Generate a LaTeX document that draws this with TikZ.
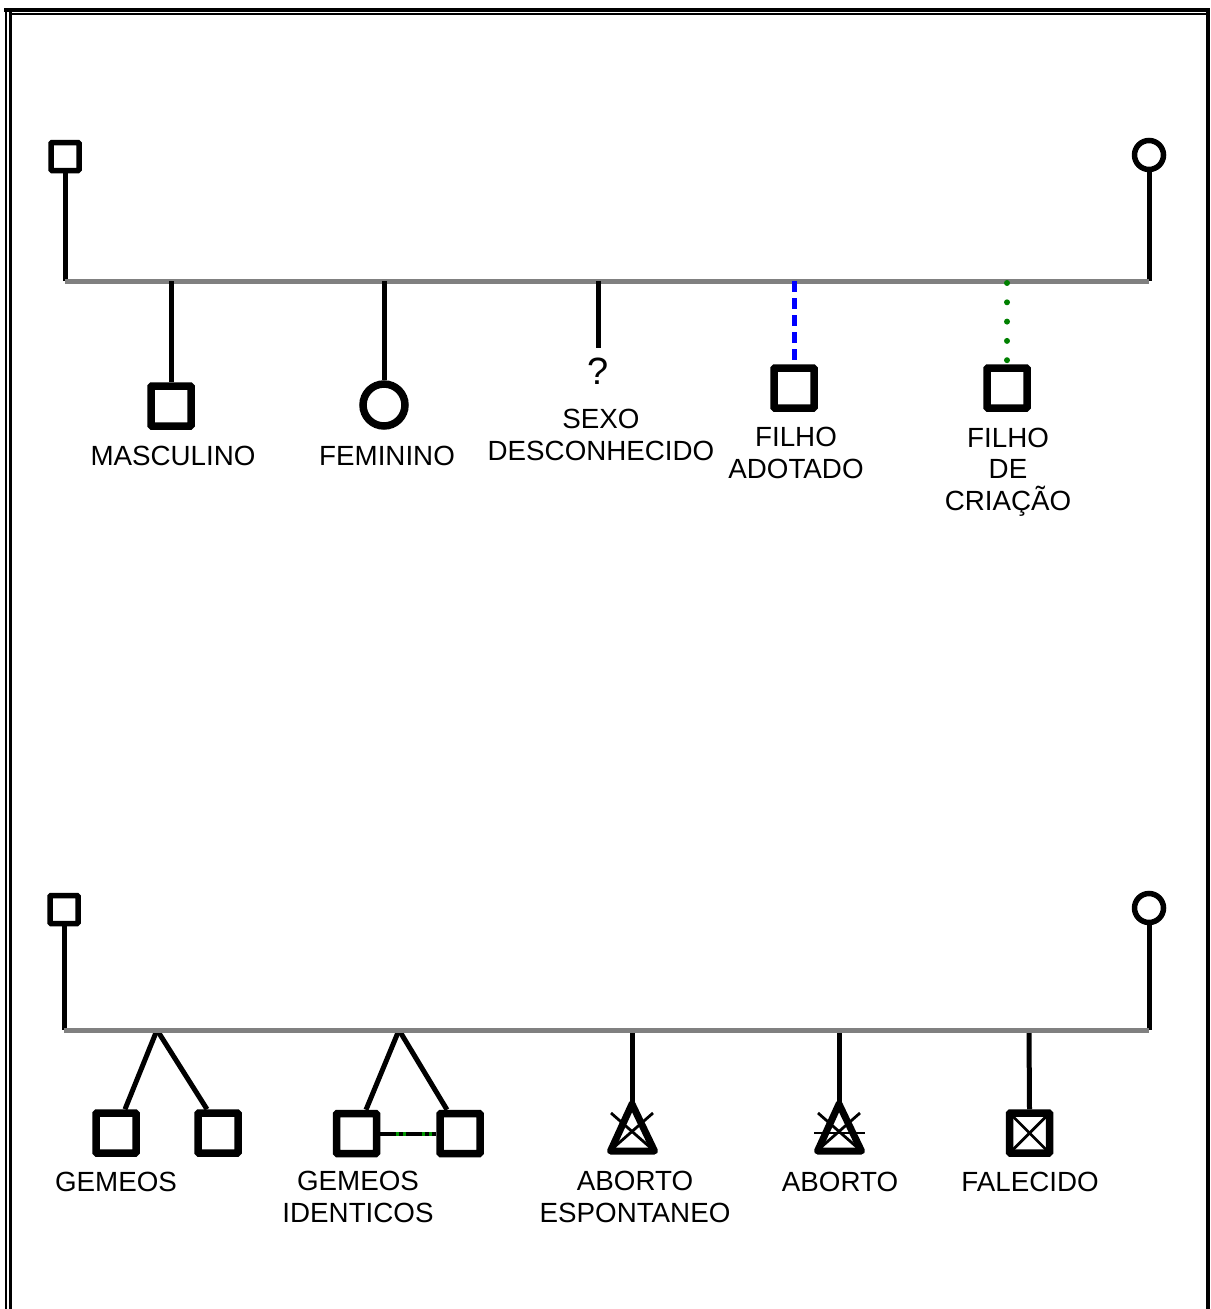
\documentclass[tikz,border=0pt]{standalone}
\usepackage{fontspec}
\setmainfont{Liberation Sans}
\begin{document}
\begin{tikzpicture}[x=1pt,y=-1pt,
  lbl/.style={font=\fontsize{27.75}{31.5}\selectfont, align=center, anchor=base, inner sep=0pt},
  parentsq/.style={draw, line width=5.5pt, rectangle, minimum size=28pt, inner sep=0pt, rounded corners=1pt},
  parentci/.style={draw, line width=5.5pt, circle, minimum size=29pt, inner sep=0pt},
  childsq/.style={draw, line width=7.5pt, rectangle, minimum size=40pt, inner sep=0pt, rounded corners=1pt},
  childci/.style={draw, line width=7.5pt, circle, minimum size=42pt, inner sep=0pt},
  link/.style={line width=5pt},
  famline/.style={line width=5pt, draw={rgb,255:red,128;green,128;blue,128}},
  thinx/.style={line width=2.8pt},
  tri/.style={line width=7pt, line join=round}]
\useasboundingbox (0,0) rectangle (1210,1309);

% page frame
\draw[line width=2pt] (6,8) -- (6,1309);
\draw[line width=3.5pt] (10.5,12) -- (10.5,1309);
\draw[line width=4pt] (4,10) -- (1210,10);
\draw[line width=2pt] (9,14) -- (1207,14);
\draw[line width=4pt] (1208,8) -- (1208,1309);

% ---------- first family ----------
\node[parentsq] (f1) at (65,156.5) {};
\node[parentci] (m1) at (1149,155) {};
\coordinate (f1b) at (65,281);
\coordinate (m1b) at (1149,281);
\draw[link] (f1.south) -- (f1b);
\draw[link] (m1.south) -- (m1b);
\coordinate (j11) at (171,281);
\coordinate (j12) at (384,281);
\coordinate (j13) at (598,281);
\coordinate (j14) at (794,281);
\coordinate (j15) at (1007,283);

\node[childsq] (masc) at (171,406) {};
\node[childci] (fem) at (384,405) {};
\node[lbl, font=\fontsize{38}{40}\selectfont] (unk) at (598,384) {?};
\coordinate (unkt) at (598,348);
\node[childsq] (adot) at (794,388) {};
\node[childsq] (cria) at (1007,388) {};

\draw[famline] (f1b) -- (m1b);
\draw[link] (j11) -- (masc.north);
\draw[link] (j12) -- (fem.north);
\draw[link] (j13) -- (unkt);
\draw[link, draw={rgb,255:red,0;green,0;blue,255}, dash pattern=on 11pt off 6pt] (j14) -- (adot.north);
\draw[line width=6pt, line cap=round, draw={rgb,255:red,0;green,128;blue,0}, dash pattern=on 0pt off 19.3pt] (j15) -- ([yshift=-2pt]cria.north);

% labels (anchor is the baseline of the last line)
\node[lbl] (lmasc) at (173,465) {MASCULINO};
\node[lbl] (lfem) at (387,465) {FEMININO};
\node[lbl] (lunk) at (601,460) {SEXO\\DESCONHECIDO};
\node[lbl] (ladot) at (796,478) {FILHO\\ADOTADO};
\node[lbl] (lcria) at (1008,510) {FILHO\\DE\\CRIAÇÃO};

% ---------- second family ----------
\node[parentsq] (f2) at (64,909.5) {};
\node[parentci] (m2) at (1149,908) {};
\coordinate (f2b) at (64,1030);
\coordinate (m2b) at (1149,1030);
\draw[link] (f2.south) -- (f2b);
\draw[link] (m2.south) -- (m2b);

% twins
\coordinate (tw1) at (157,1030);
\node[childsq] (g1) at (116,1133) {};
\node[childsq] (g2) at (218,1133) {};
\draw[link] (tw1) -- (g1.north -| 125,0);
\draw[link] (tw1) -- (g2.north -| 207,0);

% identical twins
\coordinate (tw2) at (399,1030);
\node[childsq] (i1) at (356.5,1133.5) {};
\node[childsq] (i2) at (460,1133.5) {};
\draw[link] (tw2) -- (i1.north -| 366,0);
\draw[link] (tw2) -- (i2.north -| 447,0);
\draw[line width=4pt, draw={rgb,255:red,0;green,150;blue,0}] (i1.east) -- (i2.west);
\draw[line width=4pt, dash pattern=on 16pt off 3pt on 4pt off 3pt] (i1.east) -- (i2.west);

% spontaneous abortion
\coordinate (j23) at (632,1030);
\coordinate (ab1) at (632,1104);
\draw[link] (j23) -- (ab1);
\draw[tri] (ab1) -- (610.5,1151) -- (654.5,1151) -- cycle;
\draw[thinx] (611,1113) -- (652,1149);
\draw[thinx] (653,1113) -- (612,1149);

% abortion
\coordinate (j24) at (839,1030);
\coordinate (ab2) at (839,1104);
\draw[link] (j24) -- (ab2);
\draw[tri] (ab2) -- (817.5,1151) -- (861.5,1151) -- cycle;
\draw[thinx] (818,1113) -- (859,1149);
\draw[thinx] (860,1113) -- (819,1149);
\draw[thinx] (814,1133) -- (865,1133);

% deceased
\coordinate (j25) at (1029,1030);
\node[childsq] (fal) at (1029.5,1133) {};
\draw[link] (j25) -- (fal.north);
\draw[thinx] ([shift={(3,3)}]fal.north west) -- ([shift={(-3,-3)}]fal.south east);
\draw[thinx] ([shift={(-3,3)}]fal.north east) -- ([shift={(3,-3)}]fal.south west);

\draw[famline] (f2b) -- (m2b);

\node[lbl] (lg) at (116,1191) {GEMEOS};
\node[lbl] (li) at (358,1222) {GEMEOS\\IDENTICOS};
\node[lbl] (lab1) at (635,1222) {ABORTO\\ESPONTANEO};
\node[lbl] (lab2) at (840,1191) {ABORTO};
\node[lbl] (lfal) at (1030,1191) {FALECIDO};
\end{tikzpicture}
\end{document}
